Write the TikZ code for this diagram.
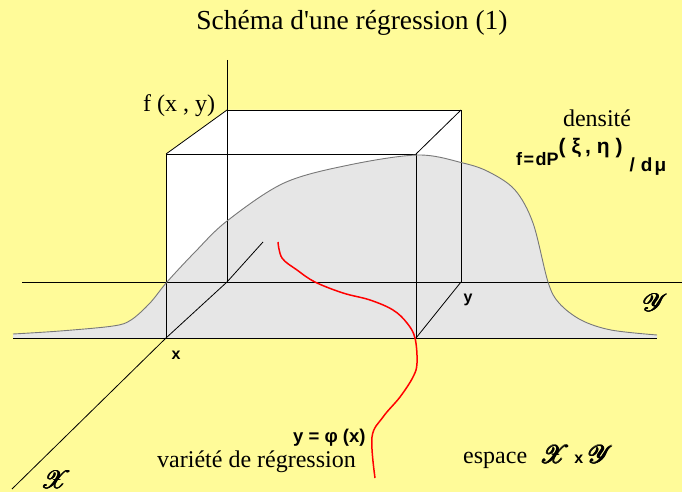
\documentclass[tikz,border=0pt]{standalone}
\usepackage{fontspec}
\usepackage{amsmath}
\usepackage{mathrsfs}
\setmainfont{Liberation Serif}
\newfontfamily\lsans{Liberation Sans}
\definecolor{bgyellow}{RGB}{255,251,153}
\definecolor{densgray}{RGB}{230,230,230}
\definecolor{edgegray}{RGB}{120,120,120}
\newcommand\fatscr[1]{\makebox[0pt][l]{$\mathscr{#1}$}\makebox[0pt][l]{\hspace{0.5pt}$\mathscr{#1}$}\makebox[0pt][l]{\hspace{1pt}$\mathscr{#1}$}\makebox[0pt][l]{\hspace{0.5pt}\raisebox{0.4pt}{$\mathscr{#1}$}}\hspace{1.2pt}$\mathscr{#1}$}
\tikzset{
  edge/.style={draw=black, line width=0.8pt},
  serlabel/.style={font=\fontsize{24}{28}\selectfont, inner sep=0pt},
  sanslabel/.style={font=\lsans\bfseries\fontsize{16}{19}\selectfont, inner sep=0pt},
  scriptlabel/.style={font=\fontsize{30}{34}\selectfont, inner sep=0pt},
  regcurve/.style={draw=red, line width=1.5pt},
}
\begin{document}
\begin{tikzpicture}[x=1pt,y=-1pt]
\fill[bgyellow] (0,0) rectangle (682,492);
\useasboundingbox (0,0) rectangle (682,492);
% box corners
\coordinate (A) at (166,154);
\coordinate (B) at (416,154);
\coordinate (C) at (416,338);
\coordinate (D) at (166,338);
\coordinate (E) at (227,110);
\coordinate (F) at (461,110);
\coordinate (G) at (461,282);
\coordinate (H) at (227,282);
\coordinate (T) at (227,60);
\coordinate (yl) at (22,282);
\coordinate (yr) at (682,282);
\coordinate (bl) at (13,338);
\coordinate (br) at (657,338);
\coordinate (xt) at (263,242);
\coordinate (xb) at (12,489);
% white box hull
\fill[white] (D) -- (A) -- (E) -- (F) -- (G) -- (C) -- cycle;
% density
\fill[densgray] plot[smooth, tension=0.55] coordinates {(13,334) (60,331) (113,326) (131,320) (150,303) (167,282) (195,252) (227,221) (284,183) (349,165) (418,155) (463,163) (489,172) (515,190) (533,223) (548,282) (559,303) (581,320) (611,330) (657,335)} -- (br) -- (bl) -- cycle;
% lines
\draw[edge] (yl) -- (yr);
\draw[edge] (bl) -- (br);
\draw[edge] (T) -- (H);
\draw[edge] (A) -- (B) -- (C);
\draw[edge] (A) -- (D);
\draw[edge] (E) -- (F) -- (G);
\draw[edge] (A) -- (E);
\draw[edge] (B) -- (F);
\draw[edge] (C) -- (G);
\draw[edge] (xt) -- (H) -- (D) -- (xb);
\draw[draw=edgegray, line width=0.9pt] plot[smooth, tension=0.55] coordinates {(13,334) (60,331) (113,326) (131,320) (150,303) (167,282) (195,252) (227,221) (284,183) (349,165) (418,155) (463,163) (489,172) (515,190) (533,223) (548,282) (559,303) (581,320) (611,330) (657,335)};
% regression curve
\draw[regcurve] plot[smooth, tension=0.6] coordinates {(278,242) (282,258) (297,270) (315,282) (343,293) (370,300) (393,310) (407,323) (415,338) (417,363) (413,377) (400,397) (383,417) (372,437) (375,478)};
% texts
\node[font=\fontsize{27.5}{32}\selectfont, inner sep=0pt, anchor=base] (title) at (352,30) {Schéma d\textquotesingle une régression (1)};
\node[serlabel, anchor=base west] (fxy) at (143,111) {f (x , y)};
\node[serlabel, anchor=base] (dens) at (597,127) {densité};
\node[sanslabel, font=\lsans\bfseries\fontsize{18}{20}\selectfont, anchor=base west] (form) at (516,165) {f\hspace{1.5pt}=\hspace{1.5pt}dP\raisebox{12pt}{\fontsize{21}{24}\selectfont (\hspace{6pt}ξ\hspace{4pt},\hspace{6pt}η\hspace{6pt})}\hspace{7pt}\raisebox{-6pt}{\fontsize{19}{21}\selectfont /\hspace{6pt}d\hspace{2pt}μ}};
\node[sanslabel, anchor=center] (ylab) at (468,300) {y};
\node[sanslabel, anchor=center] (xlab) at (176,355) {x};
\node[scriptlabel, font=\fontsize{32}{34}\selectfont, anchor=center] (Yscr) at (655,303) {\fatscr{Y}};
\node[scriptlabel, font=\fontsize{27}{30}\selectfont, anchor=center] (Xscr) at (56,480) {\fatscr{X}};
\node[sanslabel, font=\lsans\bfseries\fontsize{18.5}{22}\selectfont, anchor=base west] (phi) at (293,442) {y = φ (x)};
\node[serlabel, anchor=base west] (var) at (157,467) {variété de régression};
\node[serlabel, anchor=base west] (esp) at (463,463) {espace\hspace{12pt}{\fontsize{28}{30}\selectfont\fatscr{X}}\,{\lsans\bfseries\fontsize{16}{19}\selectfont x}\,{\fontsize{28}{30}\selectfont\fatscr{Y}}};
\end{tikzpicture}
\end{document}
